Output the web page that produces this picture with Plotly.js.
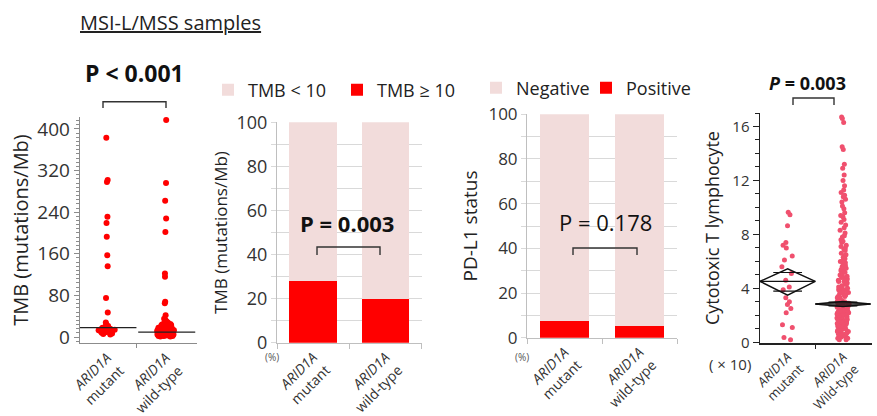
<!DOCTYPE html>
<html>
<head>
<meta charset="utf-8">
<script src="https://cdn.plot.ly/plotly-3.0.1.min.js"></script>
<style>html,body{margin:0;padding:0;background:#fff;}#chart{width:877px;height:416px;}</style>
</head>
<body>
<div id="chart"></div>
<script>
// ---------------- DATA ----------------
const groupLabels = ["<i>ARID1A</i><br>mutant", "<i>ARID1A</i><br>wild-type"];
const groupLabelsCtl = ["<i>ARID1A</i><br>mutant", "<i>ARID1A</i><br>Wild-type"];

// Panel 1: TMB (mutations/Mb) per sample
const tmbMutant = [383, 302, 298, 231, 219, 193, 157, 136, 75, 47,
  28, 25, 22, 21, 20, 19, 18, 18, 17, 16, 16, 15, 15, 14, 14, 13, 13, 12, 12, 12,
  11, 11, 10, 10, 9, 9, 8, 7, 6, 5];
const tmbWildType = [417, 296, 262, 228, 202, 122, 116, 68, 65, 42,
  35, 32, 30, 28, 26, 25, 24, 23, 22, 21, 20, 20, 19, 19, 18, 18, 17, 17, 16, 16,
  15, 15, 15, 14, 14, 14, 13, 13, 13, 12, 12, 12, 12, 11, 11, 11, 11, 10, 10, 10,
  10, 10, 9, 9, 9, 9, 9, 8, 8, 8, 8, 8, 7, 7, 7, 7, 7, 6, 6, 6, 6, 6, 5, 5, 5, 5, 5,
  4, 4, 4, 4, 3, 3, 3, 3, 2, 2, 2, 1, 1];
const tmbMedians = [18, 9.5];

// Panel 2: TMB class (%)
const tmbHighPct = [28, 20];   // TMB >= 10
const tmbLowPct = [72, 80];    // TMB < 10

// Panel 3: PD-L1 status (%)
const pdl1PosPct = [7.5, 5.4];
const pdl1NegPct = [92.5, 94.6];

// Panel 4: Cytotoxic T lymphocyte (x10)
const ctlMutant = [9.65, 9.45, 8.65, 7.4, 7.2, 7.0, 6.4, 6.1, 5.6, 5.1, 4.6, 4.1, 3.9,
  3.3, 3.0, 2.8, 2.5, 2.2, 1.3, 1.1, 0.35, 0.2];
const ctlWildType = [16.7, 16.6, 16.3, 14.5, 14.3, 13.2, 12.9, 12.4, 12.0, 11.6, 11.3,
  11.1, 10.9, 10.8, 10.6, 10.4, 10.1, 9.9, 9.6, 9.4, 9.3, 9.1, 8.9, 8.7, 8.5, 8.3, 8.1,
  7.9, 7.8, 7.6, 7.5, 7.4, 7.2, 7.1, 7.0, 6.9, 6.8, 6.6, 6.5, 6.4, 6.3, 6.2, 6.1, 6.0,
  5.9, 5.8, 5.7, 5.6, 5.5, 5.4, 5.4, 5.3, 5.2, 5.1, 5.0, 5.0, 4.9, 4.8, 4.8, 4.7, 4.6,
  4.5, 4.5, 4.4, 4.3, 4.3, 4.2, 4.1, 4.0, 4.0, 3.9, 3.9, 3.8, 3.8, 3.7, 3.7, 3.6, 3.6,
  3.5, 3.5, 3.4, 3.4, 3.3, 3.3, 3.2, 3.2, 3.1, 3.1, 3.0, 3.0, 3.0, 2.9, 2.9, 2.9, 2.8,
  2.8, 2.8, 2.7, 2.7, 2.7, 2.6, 2.6, 2.6, 2.5, 2.5, 2.5, 2.4, 2.4, 2.4, 2.3, 2.3, 2.3,
  2.2, 2.2, 2.2, 2.1, 2.1, 2.1, 2.0, 2.0, 2.0, 1.9, 1.9, 1.9, 1.8, 1.8, 1.8, 1.7, 1.7,
  1.7, 1.6, 1.6, 1.6, 1.5, 1.5, 1.5, 1.4, 1.4, 1.4, 1.3, 1.3, 1.3, 1.2, 1.2, 1.2, 1.1,
  1.1, 1.0, 1.0, 1.0, 0.9, 0.9, 0.8, 0.8, 0.8, 0.7, 0.7, 0.6, 0.6, 0.5, 0.5, 0.5, 0.4,
  0.4, 0.3, 0.3, 0.2, 0.2];
const ctlMeans = [4.52, 2.84];
const ctlCiHigh = [5.45, 3.03];
const ctlCiLow = [3.5, 2.65];

const yTicksTmb = [0, 80, 160, 240, 320, 400];
const yTicksPct = [0, 20, 40, 60, 80, 100];
const yTicksCtl = [0, 4, 8, 12, 16];

// ---------------- HELPERS ----------------
const W = 877, H = 416;
const px = v => v / W;
const py = v => 1 - v / H;
const FONT = "Open Sans, sans-serif";
const RED = "#ff0000", PINK = "#f2dcdb", CTL = "#f0506e";

const traces = [];

// Panel 1 strip points
[tmbMutant, tmbWildType].forEach((vals, i) => {
  traces.push({
    type: "box", x0: i, y: vals, xaxis: "x", yaxis: "y",
    boxpoints: "all", jitter: 0.6, pointpos: 0,
    marker: {color: RED, size: 6}, line: {width: 0, color: "rgba(0,0,0,0)"},
    fillcolor: "rgba(0,0,0,0)", showlegend: false, hoveron: "points"
  });
});
// Panel 1 median lines
tmbMedians.forEach((m, i) => {
  traces.push({
    type: "scatter", mode: "lines", x: [i - 0.47, i + 0.5], y: [m, m],
    xaxis: "x", yaxis: "y", line: {color: "#222", width: 1.3}, showlegend: false
  });
});

// Panel 2 stacked bars
traces.push({type: "bar", x: [0, 1], y: tmbHighPct, name: "TMB \u2265 10", marker: {color: RED},
  xaxis: "x2", yaxis: "y2", legend: "legend", legendrank: 2});
traces.push({type: "bar", x: [0, 1], y: tmbLowPct, name: "TMB < 10", marker: {color: PINK},
  xaxis: "x2", yaxis: "y2", legend: "legend", legendrank: 1});

// Panel 3 stacked bars
traces.push({type: "bar", x: [0, 1], y: pdl1PosPct, name: "Positive", marker: {color: RED},
  xaxis: "x3", yaxis: "y3", legend: "legend2", legendrank: 2});
traces.push({type: "bar", x: [0, 1], y: pdl1NegPct, name: "Negative", marker: {color: PINK},
  xaxis: "x3", yaxis: "y3", legend: "legend2", legendrank: 1});

// Panel 4 strip points
[ctlMutant, ctlWildType].forEach((vals, i) => {
  traces.push({
    type: "box", x0: i, y: vals, xaxis: "x4", yaxis: "y4",
    boxpoints: "all", jitter: 0.45, pointpos: 0,
    marker: {color: CTL, size: 5}, line: {width: 0, color: "rgba(0,0,0,0)"},
    fillcolor: "rgba(0,0,0,0)", showlegend: false, hoveron: "points"
  });
});
// Panel 4 means diamonds
ctlMeans.forEach((m, i) => {
  const hi = ctlCiHigh[i], lo = ctlCiLow[i];
  traces.push({
    type: "scatter", mode: "lines", xaxis: "x4", yaxis: "y4", showlegend: false,
    x: [i - 0.5, i, i + 0.5, i, i - 0.5, null, i - 0.5, i + 0.5],
    y: [m, hi, m, lo, m, null, m, m],
    line: {color: "#111", width: 1.4}
  });
  const ov = (hi - m) / Math.SQRT2, ovl = (m - lo) / Math.SQRT2;
  traces.push({
    type: "scatter", mode: "lines", xaxis: "x4", yaxis: "y4", showlegend: false,
    x: [i - 0.26, i + 0.26, null, i - 0.26, i + 0.26],
    y: [m + ov, m + ov, null, m - ovl, m - ovl],
    line: {color: "#111", width: 1.2}
  });
});

// ---------------- LAYOUT ----------------
const tickFont = (s) => ({family: FONT, size: s, color: "#333"});
const xCommon = {
  tickmode: "array", tickvals: [0, 1], tickangle: -45, ticks: "",
  showline: true, zeroline: false, showgrid: false, tickfont: tickFont(14)
};
const note = (text, x, y, size, color) => ({
  text, x: px(x), y: py(y), xref: "paper", yref: "paper", xanchor: "center", yanchor: "middle",
  showarrow: false, font: {family: FONT, size, color: color || "#111"}
});

const layout = {
  width: W, height: H, margin: {l: 0, r: 0, t: 0, b: 0},
  paper_bgcolor: "#fff", plot_bgcolor: "rgba(0,0,0,0)",
  font: {family: FONT, color: "#222"},
  barmode: "stack", bargap: 0.34, boxgap: 0.3, showlegend: true,
  xaxis: Object.assign({}, xCommon, {
    domain: [px(80), px(197)], range: [-0.46, 1.53], anchor: "y",
    ticktext: groupLabels, linecolor: "#8c8c8c", linewidth: 1.3,
    minor: {tickmode: "array", tickvals: [0.5], ticks: "outside", ticklen: 4, tickcolor: "#8c8c8c"}
  }),
  yaxis: {
    domain: [py(343), py(117)], range: [-11.5, 423], anchor: "x",
    tickmode: "array", tickvals: yTicksTmb, ticks: "outside", ticklen: 5, tickcolor: "#8c8c8c",
    showline: true, linecolor: "#8c8c8c", linewidth: 1.3, zeroline: false, showgrid: false,
    tickfont: tickFont(19),
    minor: {tickmode: "linear", tick0: 0, dtick: 8, ticks: "outside", ticklen: 3, tickcolor: "#8c8c8c"},
    title: {text: "TMB (mutations/Mb)", font: {family: FONT, size: 20, color: "#222"}, standoff: 3}
  },
  xaxis2: Object.assign({}, xCommon, {
    domain: [px(277), px(421.7)], range: [-0.5, 1.5], anchor: "y2",
    ticktext: groupLabels, linecolor: "#bfbfbf",
    minor: {tickmode: "array", tickvals: [-0.5, 0.5, 1.5], ticks: "outside", ticklen: 5, tickcolor: "#bfbfbf"}
  }),
  yaxis2: {
    domain: [py(342.7), py(122.3)], range: [0, 100], anchor: "x2",
    tickmode: "array", tickvals: yTicksPct, ticks: "outside", ticklen: 5, tickcolor: "#d9d9d9",
    showline: true, linecolor: "#bfbfbf", zeroline: false, showgrid: true, gridcolor: "#d9d9d9",
    tickfont: tickFont(18),
    minor: {tickmode: "linear", tick0: 0, dtick: 10, ticks: "outside", ticklen: 5, tickcolor: "#d9d9d9", showgrid: true, gridcolor: "#d9d9d9"},
    title: {text: "TMB (mutations/Mb)", font: {family: FONT, size: 17, color: "#222"}, standoff: 4}
  },
  xaxis3: Object.assign({}, xCommon, {
    domain: [px(527), px(677)], range: [-0.5, 1.5], anchor: "y3",
    ticktext: groupLabels, linecolor: "#bfbfbf",
    minor: {tickmode: "array", tickvals: [-0.5, 0.5, 1.5], ticks: "outside", ticklen: 5, tickcolor: "#bfbfbf"}
  }),
  yaxis3: {
    domain: [py(337.7), py(114.3)], range: [0, 100], anchor: "x3",
    tickmode: "array", tickvals: yTicksPct, ticks: "outside", ticklen: 5, tickcolor: "#d9d9d9",
    showline: true, linecolor: "#bfbfbf", zeroline: false, showgrid: true, gridcolor: "#d9d9d9",
    tickfont: tickFont(17),
    minor: {tickmode: "linear", tick0: 0, dtick: 10, ticks: "outside", ticklen: 5, tickcolor: "#d9d9d9", showgrid: true, gridcolor: "#d9d9d9"},
    title: {text: "PD-L1 status", font: {family: FONT, size: 19, color: "#222"}, standoff: 5}
  },
  xaxis4: Object.assign({}, xCommon, {
    domain: [px(760), px(871.7)], range: [-0.5, 1.52], anchor: "y4",
    ticktext: groupLabelsCtl, linecolor: "#222", linewidth: 1.5, tickfont: tickFont(13),
    minor: {tickmode: "array", tickvals: [0.5], ticks: "outside", ticklen: 4, tickcolor: "#222"}
  }),
  yaxis4: {
    domain: [py(343), py(113)], range: [-0.05, 17], anchor: "x4",
    tickmode: "array", tickvals: yTicksCtl, ticks: "outside", ticklen: 6, tickcolor: "#222",
    showline: true, linecolor: "#222", linewidth: 1.5, zeroline: false, showgrid: false,
    tickfont: tickFont(15),
    minor: {tickmode: "linear", tick0: 0, dtick: 1, ticks: "outside", ticklen: 4, tickcolor: "#222"},
    title: {text: "Cytotoxic T lymphocyte", font: {family: FONT, size: 18, color: "#222"}, standoff: 8}
  },
  legend: {
    orientation: "h", x: px(208), y: py(90), xanchor: "left", yanchor: "middle",
    font: {family: FONT, size: 18, color: "#222"}, itemwidth: 30, traceorder: "normal",
    entrywidth: 84, entrywidthmode: "pixels", bgcolor: "rgba(0,0,0,0)"
  },
  legend2: {
    orientation: "h", x: px(476), y: py(88), xanchor: "left", yanchor: "middle",
    font: {family: FONT, size: 18, color: "#222"}, itemwidth: 30, traceorder: "normal",
    entrywidth: 65, entrywidthmode: "pixels", bgcolor: "rgba(0,0,0,0)"
  },
  annotations: [
    note("<u>MSI-L/MSS samples</u>", 170, 22, 20, "#222"),
    note("<b>P &lt; 0.001</b>", 134, 73, 23),
    note("<b>P = 0.003</b>", 347, 223, 22),
    note("P = 0.178", 605, 222, 22),
    note("<b><i>P</i> = 0.003</b>", 807, 83, 18),
    note("(%)", 272, 357, 10, "#555"),
    note("(%)", 522, 357, 10, "#555"),
    note("( \u00d7 10)", 730, 364, 15, "#333")
  ],
  shapes: [
    [103, 166, 101.7, 108], [317, 380, 247, 255], [573, 637, 248, 255], [793, 834, 98, 105]
  ].map(b => ({
    type: "path", xref: "paper", yref: "paper",
    path: `M${px(b[0])},${py(b[3])} L${px(b[0])},${py(b[2])} L${px(b[1])},${py(b[2])} L${px(b[1])},${py(b[3])}`,
    line: {color: "#333", width: 1.4}
  }))
};

Plotly.newPlot("chart", traces, layout, {staticPlot: true, displayModeBar: false});
</script>
</body>
</html>
